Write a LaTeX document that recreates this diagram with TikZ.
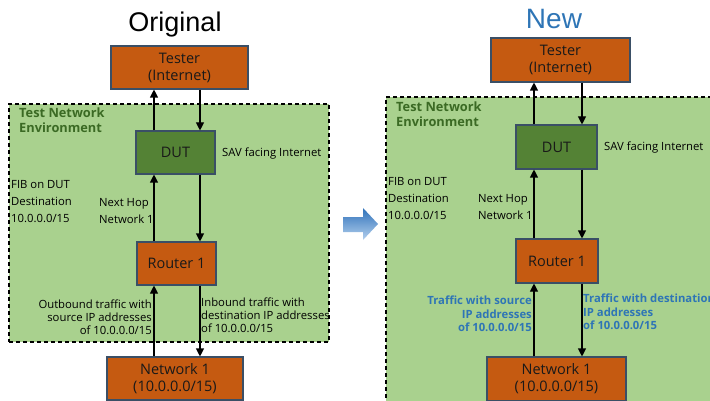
\documentclass[tikz,border=0pt]{standalone}
\usepackage{fontspec}
\setmainfont{Open Sans}
\newfontfamily\titlefont{Liberation Sans}
\usetikzlibrary{arrows.meta}

\definecolor{boxorange}{HTML}{C55A11}
\definecolor{boxedge}{HTML}{3A4F66}
\definecolor{dutgreen}{HTML}{548235}
\definecolor{envgreen}{HTML}{A9D18E}
\definecolor{envtext}{HTML}{3B6A24}
\definecolor{newblue}{HTML}{2E75B6}
\definecolor{arrowtop}{HTML}{2F72BA}
\definecolor{arrowbot}{HTML}{B4D0EE}

\tikzstyle{devbox}=[draw=boxedge, line width=1.1pt, fill=boxorange, inner sep=0pt, align=center, text=black!90, font=\fontsize{14.5}{17}\selectfont]
\tikzstyle{dutbox}=[devbox, fill=dutgreen]
\tikzstyle{envbox}=[draw, line width=1.1pt, dash pattern=on 4pt off 3pt, fill=envgreen, inner sep=0pt]
\tikzstyle{envlabel}=[inner sep=0pt, align=left, text=envtext, font={\fontsize{12.8}{15}\selectfont\bfseries}]
\tikzstyle{note}=[inner sep=0pt, font=\fontsize{11.3}{13}\selectfont]
\tikzstyle{fib}=[note, align=left, font=\fontsize{11.3}{17}\selectfont]
\tikzstyle{newnote}=[note, text=newblue, font={\fontsize{11.3}{13.5}\selectfont\bfseries}]
\tikzstyle{dep}=[-{Triangle[length=8pt,width=8pt]}, line width=1.1pt]

\begin{document}
\begin{tikzpicture}[x=1pt, y=-1pt]
  \clip (0,0) rectangle (710,401);

  % original
  \node[font=\titlefont\fontsize{27}{27}\selectfont] (origT) at (175,25) {Original};
  \node[envbox, minimum width=320pt, minimum height=238pt] (envL) at (169,223) {};
  \node[envlabel, anchor=north west] (envlabL) at (19,108) {Test Network\\Environment};
  \node[devbox, minimum width=137pt, minimum height=43pt] (testerL) at (179.5,67.5) {Tester\\(Internet)};
  \node[dutbox, minimum width=79pt, minimum height=43pt] (dutL) at (175.5,152.5) {DUT};
  \node[devbox, minimum width=79pt, minimum height=43pt] (rtrL) at (176.5,263.5) {Router 1};
  \node[devbox, minimum width=136pt, minimum height=43pt] (netL) at (175,378.5) {Network 1\\(10.0.0.0/15)};
  \node[note, anchor=west] (savL) at (222,154) {SAV facing Internet};
  \node[fib, anchor=north west] (fibL) at (11,180) {FIB on DUT\\Destination\\10.0.0.0/15};
  \node[fib, anchor=north west] (hopL) at (99,198) {Next Hop\\Network 1};
  \node[note, align=right, anchor=east] (outL) at (152,317) {Outbound traffic with\\source IP addresses\\of 10.0.0.0/15};
  \node[note, align=left, anchor=west] (inL) at (201,315) {Inbound traffic with\\destination IP addresses\\of 10.0.0.0/15};
  \coordinate (upL) at (154,0);
  \coordinate (downL) at (200,0);
  \draw[dep] (dutL.north -| upL) -- (testerL.south -| upL);
  \draw[dep] (testerL.south -| downL) -- (dutL.north -| downL);
  \draw[dep] (rtrL.north -| upL) -- (dutL.south -| upL);
  \draw[dep] (dutL.south -| downL) -- (rtrL.north -| downL);
  \draw[dep] (netL.north -| upL) -- (rtrL.south -| upL);
  \draw[dep] (rtrL.south -| downL) -- (netL.north -| downL);

  % arrow between
  \shade[top color=arrowtop, bottom color=arrowbot] (343,217) -- (363,217) -- (363,208) -- (378,224) -- (363,240) -- (363,232) -- (343,232) -- cycle;

  % new
  \node[font=\titlefont\fontsize{28}{28}\selectfont, text=newblue] (newT) at (554,19) {New};
  \node[envbox, minimum width=330pt, minimum height=310pt] (envR) at (551,252) {};
  \node[envlabel, anchor=north west] (envlabR) at (396,102) {Test Network\\Environment};
  \node[devbox, minimum width=139pt, minimum height=44pt] (testerR) at (560.5,60) {Tester\\(Internet)};
  \node[dutbox, minimum width=81pt, minimum height=44pt] (dutR) at (556.5,147) {DUT};
  \node[devbox, minimum width=82pt, minimum height=44pt] (rtrR) at (557,261) {Router 1};
  \node[devbox, minimum width=139pt, minimum height=44pt] (netR) at (556.5,379) {Network 1\\(10.0.0.0/15)};
  \node[note, anchor=west] (savR) at (604,148) {SAV facing Internet};
  \node[fib, anchor=north west] (fibR) at (388,177) {FIB on DUT\\Destination\\10.0.0.0/15};
  \node[fib, anchor=north west] (hopR) at (478,194) {Next Hop\\Network 1};
  \node[newnote, align=right, anchor=east] (srcR) at (532,314) {Traffic with source\\IP addresses\\of 10.0.0.0/15};
  \node[newnote, align=left, anchor=west] (dstR) at (583,312) {Traffic with destination\\IP addresses\\of 10.0.0.0/15};
  \coordinate (upR) at (534,0);
  \coordinate (downR) at (582,0);
  \draw[dep] (dutR.north -| upR) -- (testerR.south -| upR);
  \draw[dep] (testerR.south -| downR) -- (dutR.north -| downR);
  \draw[dep] (rtrR.north -| upR) -- (dutR.south -| upR);
  \draw[dep] (dutR.south -| downR) -- (rtrR.north -| downR);
  \draw[dep] (netR.north -| upR) -- (rtrR.south -| upR);
  \draw[dep] (rtrR.south -| downR) -- (netR.north -| downR);
\end{tikzpicture}
\end{document}
